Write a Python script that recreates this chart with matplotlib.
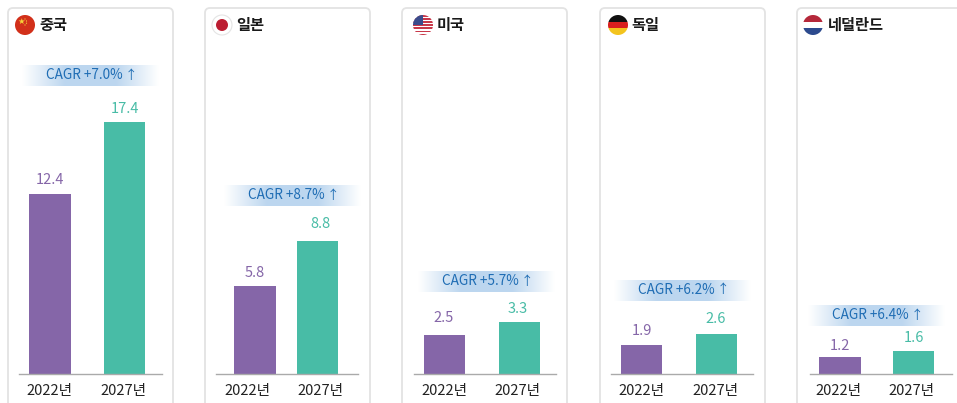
import numpy as np
import matplotlib
matplotlib.use("Agg")
import matplotlib.pyplot as plt
from matplotlib.patches import FancyBboxPatch, Circle, Rectangle

plt.rcParams['font.family'] = ['Noto Sans CJK KR', 'DejaVu Sans']

countries = ['중국', '일본', '미국', '독일', '네덜란드']
years = ['2022년', '2027년']
values_2022 = [12.4, 5.8, 2.5, 1.9, 1.2]
values_2027 = [17.4, 8.8, 3.3, 2.6, 1.6]
cagr = ['+7.0%', '+8.7%', '+5.7%', '+6.2%', '+6.4%']

W, H = 957, 403
PURPLE, GREEN = '#8566A8', '#48BCA6'
BLUE = '#1F6DB4'

card_x = [8, 205, 402, 600, 797]
axis_x = [(19, 162), (216, 358), (414, 556), (611, 753), (810, 952)]
bar_px = [(50, 124.5), (255, 317.5), (444.5, 519.5), (641.5, 716.5), (840, 913.5)]
tick_px = [(49.5, 123), (247, 320), (444, 517), (641, 715), (838, 911)]
label_px = [(50, 124.5), (255, 320), (444, 518), (642, 716), (840, 914)]
label_gap = [(14, 13), (13, 17.5), (17, 13.5), (14, 15), (11, 13)]
px_per_unit = [14.5, 15.1, 15.7, 15.3, 14.5]
band = [(22, 65), (224, 185), (418, 271), (614, 280), (808, 305)]
flag_x = [25, 222, 423, 618, 813]
title_x = [39, 236, 437, 631, 828]
BASE_Y = 374

fig = plt.figure(figsize=(W / 100, H / 100), dpi=100, facecolor='white')
bg = fig.add_axes([0, 0, 1, 1])
bg.set_xlim(0, W)
bg.set_ylim(H, 0)
bg.axis('off')

grad = np.zeros((1, 200, 4))
t = np.linspace(0, 1, 200)
grad[0, :, 0] = 0.74
grad[0, :, 1] = 0.84
grad[0, :, 2] = 0.94
grad[0, :, 3] = np.clip(np.minimum(t, 1 - t) * 3.2, 0, 1)


def flag(i, cx, cy=25, r=10):
    clip = Circle((cx, cy), r, transform=bg.transData)
    def rect(x, y, w, h, c):
        p = Rectangle((x, y), w, h, color=c, lw=0, zorder=3)
        bg.add_patch(p)
        p.set_clip_path(clip)
    if i == 0:
        rect(cx - r, cy - r, 2 * r, 2 * r, '#D2301A')
        bg.text(cx - 4, cy - 3.5, '★', color='#F5D33A', fontsize=6, ha='center',
                va='center', family='DejaVu Sans', zorder=4)
        for dx, dy in [(0, -6), (1.5, -4), (1.5, -1.8), (0, 0)]:
            bg.add_patch(Circle((cx + dx, cy + dy), 0.6, fc='#F5D33A', lw=0, zorder=4))
    elif i == 1:
        bg.add_patch(Circle((cx, cy), r, fc='white', ec='#E4E4E4', lw=0.8, zorder=3))
        bg.add_patch(Circle((cx, cy), 6, fc='#BC1E32', lw=0, zorder=4))
    elif i == 2:
        rect(cx - r, cy - r, 2 * r, 2 * r, 'white')
        for k in range(0, 7):
            rect(cx - r, cy - r + k * 3.1, 2 * r, 1.5, '#C8384A')
        rect(cx - r, cy - r, r, r, '#3A4C8C')
    elif i == 3:
        rect(cx - r, cy - r, 2 * r, 6.7, '#111111')
        rect(cx - r, cy - r + 6.7, 2 * r, 6.7, '#D8201E')
        rect(cx - r, cy - r + 13.4, 2 * r, 6.6, '#F3C41E')
    else:
        rect(cx - r, cy - r, 2 * r, 6.7, '#B5283A')
        rect(cx - r, cy - r + 6.7, 2 * r, 6.7, '#FFFFFF')
        rect(cx - r, cy - r + 13.4, 2 * r, 6.6, '#2C4A8E')


for i, country in enumerate(countries):
    # card
    bg.add_patch(FancyBboxPatch((card_x[i], 8), 165, 420,
                                boxstyle='round,pad=0,rounding_size=5',
                                fc='white', ec='#E3E3E3', lw=1.3, zorder=1))
    flag(i, flag_x[i])
    bg.text(title_x[i], 25, country, fontsize=11, fontweight='bold', color='#1A1A1A',
            ha='left', va='center', zorder=4)

    # bars
    x0, x1 = axis_x[i]
    top = 100
    ax = fig.add_axes([x0 / W, 1 - BASE_Y / H, (x1 - x0) / W, (BASE_Y - top) / H])
    ax.patch.set_alpha(0)
    ax.set_xlim(x0, x1)
    ax.set_ylim(0, (BASE_Y - top) / px_per_unit[i])
    vals = [values_2022[i], values_2027[i]]
    ax.bar(bar_px[i], vals, width=41.5, color=[PURPLE, GREEN], zorder=2)
    for px, v, c, gap in zip(label_px[i], vals, [PURPLE, GREEN], label_gap[i]):
        ax.annotate(f'{v:.1f}', (px, v), xytext=(0, gap * 0.72), textcoords='offset points',
                    ha='center', va='center', fontsize=10.5, color=c, clip_on=False,
                    annotation_clip=False)
    ax.set_xticks(tick_px[i], years)
    ax.tick_params(axis='x', length=0, pad=7.5, labelsize=10.5, labelcolor='#222222')
    ax.set_yticks([])
    for s in ['top', 'left', 'right']:
        ax.spines[s].set_visible(False)
    ax.spines['bottom'].set_color('#AAAAAA')
    ax.spines['bottom'].set_linewidth(1)

    # CAGR band
    bx, by = band[i]
    bg.imshow(grad, extent=(bx, bx + 137, by + 21, by), aspect='auto', zorder=2,
              interpolation='bilinear')
    bg.text(bx + 62, by + 10, f'CAGR {cagr[i]}', fontsize=9.8, color=BLUE,
            ha='center', va='center', zorder=4)
    bg.text(bx + 109, by + 10, '↑', fontsize=9, color=BLUE, ha='center',
            va='center', zorder=4)

bg.set_xlim(0, W)
bg.set_ylim(H, 0)
fig.savefig('out.png', dpi=100)
